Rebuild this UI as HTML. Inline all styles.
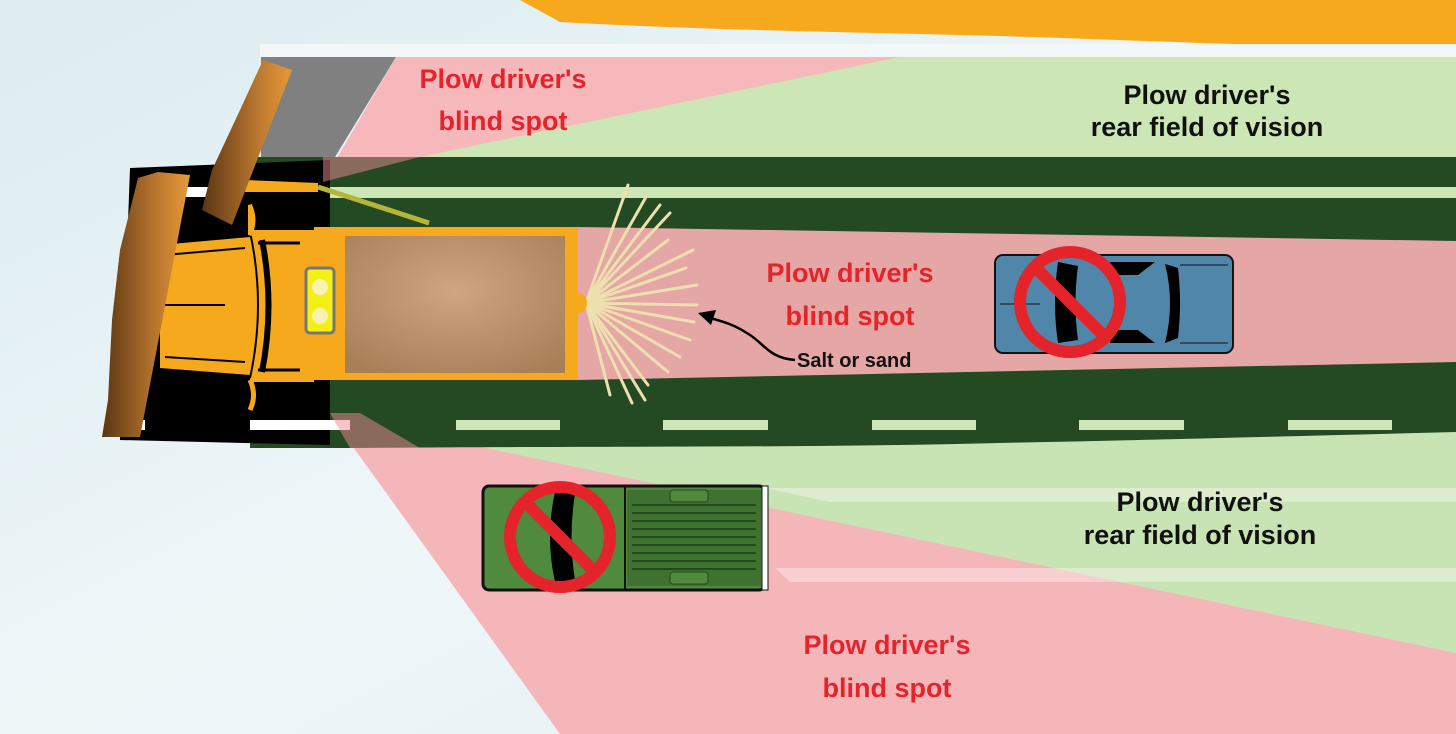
<!DOCTYPE html>
<html><head><meta charset="utf-8"><style>
html,body{margin:0;padding:0;width:1456px;height:734px;overflow:hidden;background:#e6f1f4}
svg{display:block}
text{font-family:"Liberation Sans",sans-serif;font-weight:bold}
</style></head><body>
<svg width="1456" height="734" viewBox="0 0 1456 734" xmlns="http://www.w3.org/2000/svg">
<defs>
<linearGradient id="snow" x1="0" y1="0" x2="1" y2="1">
<stop offset="0" stop-color="#dcecf1"/><stop offset="0.5" stop-color="#eef6f8"/><stop offset="1" stop-color="#e2eff3"/>
</linearGradient>
<radialGradient id="bed" cx="0.5" cy="0.4" r="0.7">
<stop offset="0" stop-color="#cfa582"/><stop offset="1" stop-color="#a97f58"/>
</radialGradient>
<linearGradient id="blade" x1="0" y1="0" x2="1" y2="0">
<stop offset="0" stop-color="#5a3512"/><stop offset="0.6" stop-color="#b8752e"/><stop offset="1" stop-color="#e89a3a"/>
</linearGradient>
</defs>
<rect width="1456" height="734" fill="url(#snow)"/>
<!-- orange top -->
<path d="M520 0 L1456 0 L1456 44 C1300 50 1150 40 1000 36 C850 32 700 30 560 22 Z" fill="#f6a91d"/>
<!-- top white strip -->
<rect x="260" y="44" width="1196" height="14" fill="#f2f7f8"/>
<!-- bottom green (under road) -->
<polygon points="330,405 1456,425 1456,653 340,420" fill="#c9e4b4"/>
<!-- bottom pink -->
<polygon points="330,415 1456,653 1456,734 560,734" fill="#f5b6b9"/>
<!-- light bands in bottom green -->
<polygon points="765,488 1456,488 1456,502 830,502" fill="#ffffff" opacity="0.35"/>
<polygon points="775,568 1456,568 1456,582 790,582" fill="#ffffff" opacity="0.35"/>
<!-- top areas -->
<polygon points="261,57 396,57 335,157 261,157" fill="#808080"/>
<polygon points="396,57 900,57 323,182" fill="#f6b8bb"/>
<polygon points="900,57 1456,57 1456,157 420,157" fill="#cde6b6"/>
<!-- road -->
<path d="M250 157 L1456 157 L1456 432 C1300 436 1150 440 1000 443 C800 448 600 446 350 448 L250 448 Z" fill="#234a22"/>
<!-- green overlay on road (top wedge) -->
<polygon points="323,182 900,57 1456,57 1456,232 " fill="#9bd08a" opacity="0.0"/>
<!-- light stripe top lane -->
<rect x="330" y="187" width="1126" height="11" fill="#cde6b6"/>
<!-- black area left -->
<path d="M130 168 L330 160 L330 445 L120 440 Z" fill="#000"/>
<rect x="168" y="187" width="42" height="10" fill="#fff"/>
<rect x="115" y="420" width="30" height="10" fill="#fff"/>
<rect x="250" y="420" width="100" height="10" fill="#fff"/>
<!-- dashes -->
<g fill="#cfe7b8">
<rect x="350" y="420" width="0" height="10"/>
<rect x="456" y="420" width="104" height="10"/>
<rect x="663" y="420" width="105" height="10"/>
<rect x="872" y="420" width="104" height="10"/>
<rect x="1079" y="420" width="105" height="10"/>
<rect x="1288" y="420" width="104" height="10"/>
</g>
<!-- pink overlays on road -->
<polygon points="323,157 420,157 323,182" fill="#f08a95" opacity="0.5"/>
<polygon points="330,413 360,413 420,448 350,448" fill="#f08a95" opacity="0.5"/>
<!-- middle pink -->
<polygon points="578,227 1456,241 1456,362 578,380" fill="#e5a6a6"/>
<!-- spray -->
<g stroke="#eedfae" stroke-width="3" stroke-linecap="round">
<line x1="586" y1="303" x2="628" y2="185"/>
<line x1="586" y1="303" x2="646" y2="197"/>
<line x1="586" y1="303" x2="660" y2="205"/>
<line x1="586" y1="303" x2="670" y2="213"/>
<line x1="586" y1="303" x2="668" y2="240"/>
<line x1="586" y1="303" x2="693" y2="250"/>
<line x1="586" y1="303" x2="686" y2="268"/>
<line x1="586" y1="303" x2="697" y2="285"/>
<line x1="586" y1="303" x2="697" y2="305"/>
<line x1="586" y1="303" x2="694" y2="322"/>
<line x1="586" y1="303" x2="690" y2="340"/>
<line x1="586" y1="303" x2="680" y2="357"/>
<line x1="586" y1="303" x2="668" y2="372"/>
<line x1="586" y1="303" x2="648" y2="385"/>
<line x1="586" y1="303" x2="645" y2="400"/>
<line x1="586" y1="303" x2="632" y2="403"/>
<line x1="586" y1="303" x2="610" y2="395"/>
</g>
<!-- truck -->
<line x1="318" y1="187" x2="429" y2="223" stroke="#b5b53a" stroke-width="5"/>
<polygon points="245,180 318,183 318,192 245,192" fill="#f6a91d"/>
<!-- cab -->
<path d="M160 245 L250 237 L250 230 L314 230 L314 382 L250 382 L250 375 L160 368 Z" fill="#f6a91d"/>
<path d="M262 240 Q275 305 262 372" stroke="#000" stroke-width="6" fill="none"/>
<path d="M250 232 Q266 305 250 378" stroke="#000" stroke-width="2" fill="none"/>
<line x1="165" y1="255" x2="245" y2="248" stroke="#000" stroke-width="2"/>
<line x1="165" y1="357" x2="245" y2="362" stroke="#000" stroke-width="2"/>
<line x1="165" y1="305" x2="225" y2="305" stroke="#000" stroke-width="2"/>
<line x1="258" y1="243" x2="300" y2="243" stroke="#000" stroke-width="3"/>
<line x1="258" y1="370" x2="300" y2="370" stroke="#000" stroke-width="3"/>
<path d="M250 205 Q257 220 250 235 Z" fill="#f6a91d" stroke="#f6a91d" stroke-width="4"/>
<path d="M250 380 Q257 395 250 410" fill="none" stroke="#f6a91d" stroke-width="5"/>
<!-- bed -->
<rect x="314" y="227" width="264" height="153" fill="#f6a91d"/>
<rect x="345" y="236" width="220" height="137" fill="url(#bed)"/>
<path d="M578 293 A9 10 0 0 1 578 313 Z" fill="#f6a91d"/>
<!-- lights -->
<rect x="306" y="268" width="28" height="65" rx="4" fill="#f5ef18" stroke="#777" stroke-width="3"/>
<circle cx="320" cy="287" r="8" fill="#f6f3b5"/><circle cx="320" cy="316" r="8" fill="#f6f3b5"/>
<!-- plow blades -->
<polygon points="138,178 158,172 190,175 140,437 102,437 108,400 112,320 120,250" fill="url(#blade)"/>
<polygon points="263,60 292,70 232,225 202,210 212,170 240,110" fill="url(#blade)"/>
<!-- blue car -->
<rect x="995" y="255" width="238" height="98" rx="8" fill="#4f86aa" stroke="#111" stroke-width="2"/>
<path d="M1058 262 Q1052 303 1058 343 L1078 340 Q1073 303 1078 266 Z" fill="#000"/>
<path d="M1110 262 L1155 262 L1138 275 L1112 275 Z" fill="#000"/>
<path d="M1110 343 L1155 343 L1138 330 L1112 330 Z" fill="#000"/>
<path d="M1165 264 Q1175 303 1165 343 L1178 338 Q1182 303 1178 268 Z" fill="#000"/>
<line x1="1180" y1="265" x2="1228" y2="265" stroke="#111"/>
<line x1="1180" y1="343" x2="1228" y2="343" stroke="#111"/>
<line x1="1000" y1="304" x2="1040" y2="304" stroke="#111"/>
<circle cx="1070" cy="302" r="50" fill="none" stroke="#e4232b" stroke-width="12"/>
<line x1="1035" y1="267" x2="1105" y2="337" stroke="#e4232b" stroke-width="12"/>
<!-- green pickup -->
<rect x="483" y="486" width="282" height="104" rx="6" fill="#4f8a3d" stroke="#111" stroke-width="3"/>
<rect x="627" y="490" width="134" height="96" fill="#3f7130"/>
<line x1="625" y1="486" x2="625" y2="590" stroke="#111" stroke-width="2"/>
<g stroke="#234a1c" stroke-width="2">
<line x1="632" y1="505" x2="756" y2="505"/><line x1="632" y1="513" x2="756" y2="513"/>
<line x1="632" y1="521" x2="756" y2="521"/><line x1="632" y1="529" x2="756" y2="529"/>
<line x1="632" y1="537" x2="756" y2="537"/><line x1="632" y1="545" x2="756" y2="545"/>
<line x1="632" y1="553" x2="756" y2="553"/><line x1="632" y1="561" x2="756" y2="561"/>
<line x1="632" y1="569" x2="756" y2="569"/>
</g>
<rect x="670" y="490" width="38" height="12" rx="3" fill="#4f8a3d" stroke="#234a1c"/>
<rect x="670" y="572" width="38" height="12" rx="3" fill="#4f8a3d" stroke="#234a1c"/>
<rect x="762" y="486" width="6" height="104" fill="#fff" stroke="#111"/>
<path d="M555 492 Q545 537 555 582 L575 580 Q568 537 575 494 Z" fill="#000"/>
<circle cx="560" cy="537" r="50" fill="none" stroke="#e4232b" stroke-width="12"/>
<line x1="525" y1="502" x2="595" y2="572" stroke="#e4232b" stroke-width="12"/>
<!-- arrow -->
<path d="M795 360 C770 358 765 345 750 335 C735 325 725 322 710 318" fill="none" stroke="#000" stroke-width="2.5"/>
<polygon points="698,313 716,310 711,325" fill="#000"/>
<!-- texts -->
<g fill="#e4232b" font-size="27" text-anchor="middle">
<text x="503" y="88">Plow driver's</text>
<text x="503" y="130">blind spot</text>
<text x="850" y="282">Plow driver's</text>
<text x="850" y="325">blind spot</text>
<text x="887" y="654">Plow driver's</text>
<text x="887" y="697">blind spot</text>
</g>
<g fill="#111" font-size="27" text-anchor="middle">
<text x="1207" y="104">Plow driver's</text>
<text x="1207" y="136">rear field of vision</text>
<text x="1200" y="511">Plow driver's</text>
<text x="1200" y="544">rear field of vision</text>
</g>
<text x="797" y="367" font-size="20" fill="#111">Salt or sand</text>
</svg>
</body></html>
